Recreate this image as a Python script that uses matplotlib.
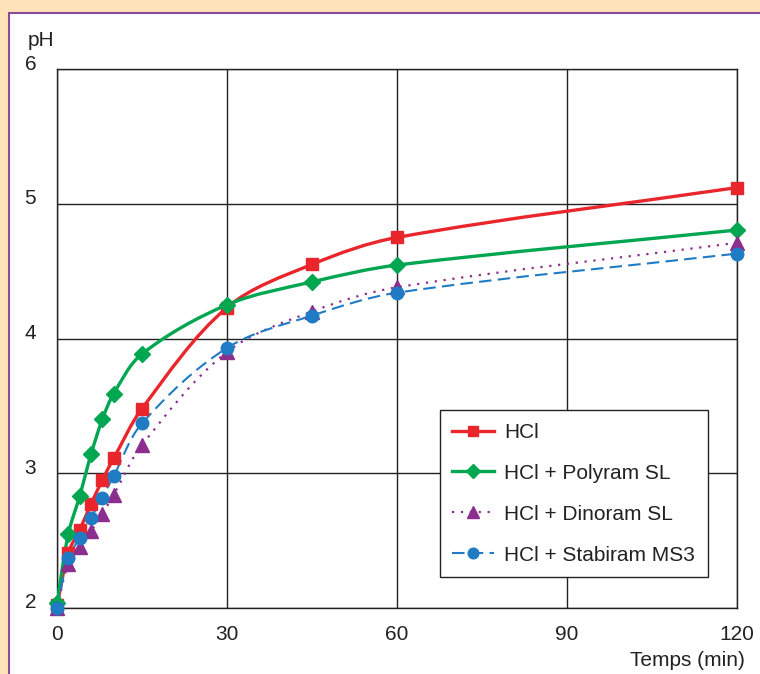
import numpy as np
import matplotlib.pyplot as plt
import matplotlib.transforms as mtransforms
from matplotlib.path import Path
from matplotlib.patches import PathPatch, Rectangle
from matplotlib.lines import Line2D

plt.rcParams['font.family'] = ['Liberation Sans', 'DejaVu Sans']

# Data
temps = [0, 2, 4, 6, 8, 10, 15, 30, 45, 60, 120]
hcl = [2.02, 2.41, 2.58, 2.77, 2.95, 3.11, 3.48, 4.23, 4.55, 4.75, 5.12]
polyram = [2.04, 2.55, 2.83, 3.14, 3.40, 3.59, 3.885, 4.25, 4.42, 4.545, 4.805]
dinoram = [2.00, 2.33, 2.45, 2.57, 2.70, 2.84, 3.21, 3.90, 4.20, 4.38, 4.71]
stabiram = [2.00, 2.37, 2.52, 2.67, 2.82, 2.98, 3.37, 3.93, 4.17, 4.34, 4.63]

labels = ["HCl", "HCl + Polyram SL", "HCl + Dinoram SL", "HCl + Stabiram MS3"]
xticks = [0, 30, 60, 90, 120]
yticks = [2, 3, 4, 5, 6]

# pixel scale of the plot, used only to shape the smoothed curves
SX, SY = 680 / 120, 539 / 4


def smooth_path(x, y):
    # smoothed line through the points: cubic Bezier segments,
    # tangents from neighbours, handle length 1/3 of each segment
    p = np.column_stack([np.asarray(x, float) * SX, np.asarray(y, float) * SY])
    n = len(p)
    tang = []
    for i in range(n):
        a = p[max(i - 1, 0)]
        b = p[min(i + 1, n - 1)]
        d = b - a
        tang.append(d / np.hypot(*d))
    verts = [p[0]]
    codes = [Path.MOVETO]
    for i in range(n - 1):
        L = np.hypot(*(p[i + 1] - p[i]))
        verts += [p[i] + tang[i] * L / 3, p[i + 1] - tang[i + 1] * L / 3, p[i + 1]]
        codes += [Path.CURVE4] * 3
    verts = np.array(verts) / [SX, SY]
    return Path(verts, codes)


fig = plt.figure(figsize=(7.6, 6.74), dpi=100)
fig.patch.set_facecolor('#FFE3B8')
fig.patches.append(Rectangle((9 / 760, -0.02), 1.0, 1 - 13 / 674 + 0.02,
                             transform=fig.transFigure, facecolor='white',
                             edgecolor='#8B4A9C', linewidth=1.5, zorder=-5))

ax = fig.add_axes([57 / 760, 1 - 608 / 674, 680 / 760, 539 / 674])
ax.set_zorder(2)

styles = [
    dict(color='#E8262C', ls='-', lw=2.4, marker='s', ms=9),
    dict(color='#00A650', ls='-', lw=2.4, marker='D', ms=8),
    dict(color='#8B2E8E', ls=(0, (1, 3)), lw=1.6, marker='^', ms=10),
    dict(color='#1F7BC4', ls=(0, (6, 3)), lw=1.5, marker='o', ms=9),
]
series = [hcl, polyram, dinoram, stabiram]

handles = []
for vals, st in zip(series, styles):
    patch = PathPatch(smooth_path(temps, vals), fill=False, edgecolor=st['color'],
                      linestyle=st['ls'], linewidth=st['lw'], zorder=3)
    ax.add_patch(patch)
    ax.plot(temps, vals, linestyle='none', marker=st['marker'], ms=st['ms'],
            color=st['color'], clip_on=False, zorder=4)
    handles.append(Line2D([], [], color=st['color'], linestyle=st['ls'],
                          linewidth=st['lw'], marker=st['marker'], ms=st['ms'] * 0.85))

ax.set_xlim(0, 120)
ax.set_ylim(2, 6)
ax.set_xticks(xticks)
ax.set_yticks(yticks)
ax.grid(True, color='#222222', linewidth=1.0)
ax.set_axisbelow(True)
for s in ax.spines.values():
    s.set_color('#222222')
    s.set_linewidth(1.0)
ax.tick_params(length=0, labelsize=15, labelcolor='#222222')
ax.tick_params(axis='y', pad=15)
ax.tick_params(axis='x', pad=12)
# y labels sit a little above their grid line
shift = mtransforms.ScaledTranslation(0, 5 / 100, fig.dpi_scale_trans)
for lab in ax.get_yticklabels():
    lab.set_verticalalignment('center')
    lab.set_transform(lab.get_transform() + shift)

leg = ax.legend(handles, labels, loc='lower right', bbox_to_anchor=(0.957, 0.0575),
                borderaxespad=0, fontsize=15, frameon=True, fancybox=False,
                handlelength=2.0, handletextpad=0.5, labelspacing=1.05,
                borderpad=0.6, labelcolor='#222222')
leg.get_frame().set_edgecolor('#222222')
leg.get_frame().set_linewidth(1.0)
leg.get_frame().set_alpha(1)

fig.text(28 / 760, 1 - 40 / 674, "pH", fontsize=15, color='#222222', va='center')
fig.text(745 / 760, 1 - 660 / 674, "Temps (min)", fontsize=15, color='#222222',
         va='center', ha='right')

plt.savefig("out.png", dpi=100, facecolor=fig.get_facecolor())
